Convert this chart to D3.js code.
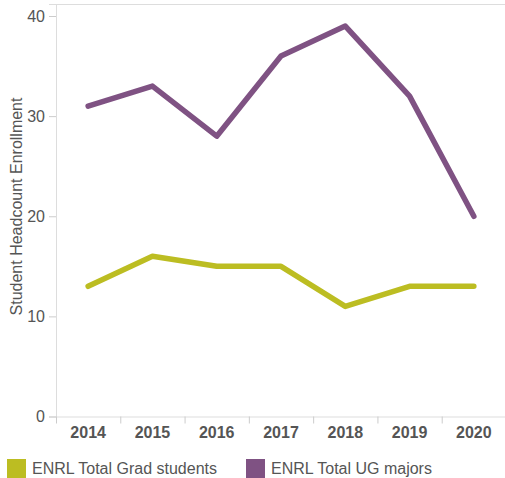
<!DOCTYPE html>
<html><head><meta charset="utf-8">
<script src="https://cdn.jsdelivr.net/npm/d3@7"></script>
<style>body{margin:0;background:#fff;} svg text{font-family:Arial,"Liberation Sans",sans-serif;}</style>
</head><body>
<svg id="c" width="505" height="478"></svg>
<script>
const years = ["2014","2015","2016","2017","2018","2019","2020"];
const gradStudents = [13,16,15,15,11,13,13];
const ugMajors = [31,33,28,36,39,32,20];
const seriesNames = ["ENRL Total Grad students","ENRL Total UG majors"];
const seriesColors = ["#bcbd22","#7f5283"];
const yTicks = [0,10,20,30,40];

(function(){
const svg = d3.select("#c");
const ff = "Arial, 'Liberation Sans', sans-serif";
const mLeft = 56, mRight = 506, mTop = 4, mBottom = 416.5;
const x = d3.scaleBand().domain(years).range([mLeft, mRight]);
const y = d3.scaleLinear().domain([0, 41.2]).range([mBottom, mTop]);

svg.append("line").attr("x1",mLeft).attr("x2",505).attr("y1",mTop+0.5).attr("y2",mTop+0.5).attr("stroke","#ddd");
const ya = svg.append("g").attr("transform",`translate(${mLeft},0)`)
  .call(d3.axisLeft(y).tickValues(yTicks).tickSize(7).tickPadding(4));
ya.attr("font-family",ff);
ya.select(".domain").attr("stroke","#ddd");
ya.selectAll(".tick line").attr("stroke","#ccc");
ya.selectAll(".tick text").attr("fill","#555").style("font-size","16px").style("font-family",ff);

const xa = svg.append("g").attr("transform",`translate(0,${mBottom})`)
  .call(d3.axisBottom(x).tickSize(0).tickPadding(10));
xa.attr("font-family",ff);
xa.select(".domain").attr("stroke","#ddd");
xa.selectAll(".tick text").attr("fill","#555").style("font-size","16px").style("font-weight","bold").style("font-family",ff);
svg.append("g").selectAll("line").data(years).join("line")
  .attr("x1",d=>x(d)+0.5).attr("x2",d=>x(d)+0.5)
  .attr("y1",mBottom).attr("y2",mBottom+7).attr("stroke","#ccc");

svg.append("text").attr("transform","translate(21.5,206.5) rotate(-90)")
  .attr("text-anchor","middle").attr("fill","#555")
  .style("font-size","16px").style("font-family",ff).text("Student Headcount Enrollment");

const line = d3.line().x((d,i)=>x(years[i])+x.bandwidth()/2).y(d=>y(d));
[gradStudents, ugMajors].forEach((s,i)=>{
  svg.append("path").attr("d",line(s)).attr("fill","none")
    .attr("stroke",seriesColors[i]).attr("stroke-width",5.5)
    .attr("stroke-linejoin","round").attr("stroke-linecap","round");
});

const lx = [7, 246];
seriesNames.forEach((n,i)=>{
  svg.append("rect").attr("x",lx[i]).attr("y",459).attr("width",19).attr("height",19).attr("fill",seriesColors[i]);
  svg.append("text").attr("x",lx[i]+25).attr("y",474).attr("fill","#555")
    .style("font-size","16px").style("font-family",ff).text(n);
});
})();
</script>
</body></html>
